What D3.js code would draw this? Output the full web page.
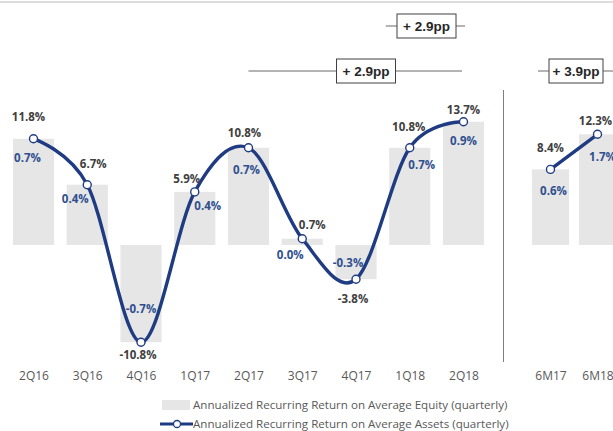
<!DOCTYPE html>
<html><head><meta charset="utf-8">
<script src="https://cdn.jsdelivr.net/npm/d3@7"></script>
<style>
html,body{margin:0;padding:0;background:#fff;}
svg{display:block;font-family:"Open Sans",sans-serif;}
</style></head>
<body>
<svg id="chart" width="613" height="431"></svg>
<script>
// ---- data ----
const quarters = ["2Q16","3Q16","4Q16","1Q17","2Q17","3Q17","4Q17","1Q18","2Q18"];
const roeQuarterly = [11.8, 6.7, -10.8, 5.9, 10.8, 0.7, -3.8, 10.8, 13.7];
const roaQuarterly = [0.7, 0.4, -0.7, 0.4, 0.7, 0.0, -0.3, 0.7, 0.9];
const halves = ["6M17","6M18"];
const roeHalf = [8.4, 12.3];
const roaHalf = [0.6, 1.7];
const deltas = [
  {text:"+ 2.9pp", from:"1Q18", to:"2Q18", group:"q", level:0},
  {text:"+ 2.9pp", from:"2Q17", to:"2Q18", group:"q", level:1},
  {text:"+ 3.9pp", from:"6M17", to:"6M18", group:"h", level:1}
];
const legendLabels = ["Annualized Recurring Return on Average Equity (quarterly)",
                      "Annualized Recurring Return on Average Assets (quarterly)"];

// label placement offsets (layout only)
const roeOff = [[-5,-22],[6,-21],[-3,13],[-8,-13],[-4,-15],[10,-14],[-3,20],[-1,-21],[0,-12]];
const roaOff = [[-6,19],[-12,14],[0,-33],[13,14],[-2,22],[-12,16],[-8,-16],[12,17],[0,19]];
const roeOffH = [[0,-21],[-2,-13]];
const roaOffH = [[3,22],[5,23]];

const svg = d3.select("#chart");
const BAR = "#e6e6e6", LINE = "#1f3b82", ROA_C = "#2f4f8f", ROE_C = "#404040", AX = "#595959";

const xq = d3.scalePoint().domain(quarters).range([33.5, 463.5]);
const xh = d3.scalePoint().domain(halves).range([550.5, 597.5]);
const y = d3.scaleLinear().domain([-15, 15]).range([380, 110]);
const bwq = xq.step() * 0.765;
const bwh = xh.step() * 0.79;

// top border
svg.append("line").attr("x1",0).attr("x2",613).attr("y1",2).attr("y2",2)
  .attr("stroke","#d0d0d0").attr("stroke-width",1.5);

// bars
function bars(cats, vals, x, bw){
  svg.append("g").selectAll("rect").data(vals).join("rect")
    .attr("x",(d,i)=>x(cats[i]) - bw/2)
    .attr("width",bw)
    .attr("y",d=>Math.min(y(d),y(0)))
    .attr("height",d=>Math.abs(y(d)-y(0)))
    .attr("fill",BAR);
}
bars(quarters, roeQuarterly, xq, bwq);
bars(halves, roeHalf, xh, bwh);

// divider
svg.append("line").attr("x1",503.5).attr("x2",503.5).attr("y1",90).attr("y2",362)
  .attr("stroke","#7f7f7f").attr("stroke-width",1);

// lines
const line = d3.line().curve(d3.curveCardinal.tension(0));
function series(cats, vals, x){
  const pts = vals.map((d,i)=>[x(cats[i]), y(d)]);
  svg.append("path").attr("d", line(pts)).attr("fill","none")
    .attr("stroke",LINE).attr("stroke-width",3.4).attr("stroke-linecap","round");
  svg.append("g").selectAll("circle").data(pts).join("circle")
    .attr("cx",d=>d[0]).attr("cy",d=>d[1]).attr("r",4)
    .attr("fill","#fff").attr("stroke",LINE).attr("stroke-width",1.4);
  return pts;
}
const pq = series(quarters, roeQuarterly, xq);
const ph = series(halves, roeHalf, xh);

// labels
const fmt = d => d.toFixed(1) + "%";
function labels(pts, vals, off, color){
  svg.append("g").selectAll("text").data(vals).join("text")
    .attr("x",(d,i)=>pts[i][0]+off[i][0])
    .attr("y",(d,i)=>pts[i][1]+off[i][1])
    .attr("dy","0.35em").attr("text-anchor","middle")
    .attr("font-size",11.5).attr("font-weight","bold").attr("fill",color)
    .text(fmt);
}
labels(pq, roeQuarterly, roeOff, ROE_C);
labels(pq, roaQuarterly, roaOff, ROA_C);
labels(ph, roeHalf, roeOffH, ROE_C);
labels(ph, roaHalf, roaOffH, ROA_C);

// axes (category labels)
function axis(x){
  const g = svg.append("g").attr("transform","translate(0,376)")
    .call(d3.axisBottom(x).tickSize(0).tickPadding(0));
  g.select(".domain").remove();
  g.selectAll("text").attr("font-family","Open Sans").attr("font-size",12)
    .attr("fill",AX).attr("dy","0.35em");
}
axis(xq); axis(xh);

// delta annotations
const levelY = [26, 71];
deltas.forEach(a=>{
  const x = a.group === "q" ? xq : xh;
  const ly = levelY[a.level];
  let x1 = x(a.from), x2 = x(a.to);
  if (a.level === 0) { x1 -= 24; x2 += 1.5; }
  else if (a.group === "h") { x1 -= 12.5; x2 += 20; }
  else { x2 -= 1.5; }
  const cx = (a.level===1 && a.group==="q") ? 366 : (a.group==="h" ? 576 : 426.5);
  const w = a.group==="h" ? 54 : 59, h = 24;
  svg.append("line").attr("x1",x1).attr("x2",x2).attr("y1",ly).attr("y2",ly)
    .attr("stroke","#6b6b6b").attr("stroke-width",1.2);
  svg.append("rect").attr("x",cx-w/2).attr("y",ly-h/2).attr("width",w).attr("height",h)
    .attr("fill","#fff").attr("stroke","#404040").attr("stroke-width",1);
  svg.append("text").attr("x",cx).attr("y",ly).attr("dy","0.35em")
    .attr("text-anchor","middle").attr("font-size",13.5).attr("font-weight","bold")
    .attr("fill","#262626").attr("font-family","Liberation Sans Narrow, Liberation Sans, sans-serif")
    .text(a.text);
});

// legend
const lg = svg.append("g");
lg.append("rect").attr("x",162).attr("y",400).attr("width",28).attr("height",10).attr("fill",BAR);
lg.append("line").attr("x1",160).attr("x2",193).attr("y1",424).attr("y2",424)
  .attr("stroke",LINE).attr("stroke-width",3);
lg.append("circle").attr("cx",177).attr("cy",424).attr("r",3.5)
  .attr("fill","#fff").attr("stroke",LINE).attr("stroke-width",1.3);
lg.selectAll("text.lt").data(legendLabels).join("text").attr("class","lt")
  .attr("x",193).attr("y",(d,i)=>405+i*19).attr("dy","0.35em")
  .attr("font-size",11.6).attr("fill",AX).text(d=>d);
</script>
</body></html>
